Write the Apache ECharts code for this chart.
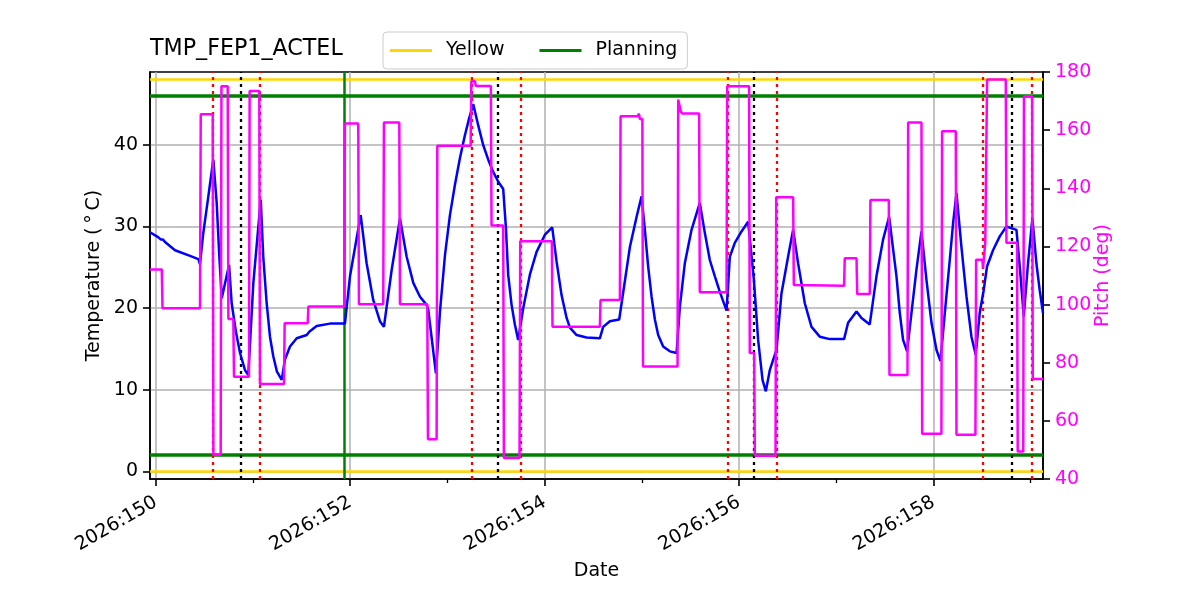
<!DOCTYPE html>
<html>
<head>
<meta charset="utf-8">
<script src="https://cdn.jsdelivr.net/npm/echarts@6/dist/echarts.min.js"></script>
<style>html,body{margin:0;padding:0;background:#fff}#c{width:1200px;height:600px}</style>
</head>
<body>
<div id="c"></div>
<script>
const xMajorTicks = [150, 152, 154, 156, 158];
const xMinorTicks = [151, 153, 155, 157, 159];
const xTickLabels = ['2026:150', '2026:152', '2026:154', '2026:156', '2026:158'];
const tempTicks = [0, 10, 20, 30, 40];

const tempTime = [149.941,150.024,150.054,150.075,150.096,150.198,150.353,150.438,150.455,150.489,
150.541,150.592,150.627,150.654,150.679,150.754,150.781,150.826,150.867,150.918,
150.952,151.004,151.080,151.106,151.141,151.175,151.209,151.247,151.296,151.329,
151.381,151.450,151.553,151.579,151.655,151.792,151.946,151.998,152.108,152.169,
152.237,152.306,152.347,152.427,152.512,152.581,152.649,152.718,152.786,152.803,
152.882,152.923,152.975,153.026,153.077,153.129,153.180,153.224,153.266,153.317,
153.368,153.420,153.471,153.523,153.574,153.602,153.625,153.660,153.694,153.728,
153.780,153.848,153.917,154.003,154.078,154.123,154.174,154.226,154.260,154.329,
154.431,154.568,154.602,154.671,154.767,154.877,154.946,154.997,155.031,155.065,
155.100,155.134,155.168,155.219,155.288,155.357,155.391,155.442,155.511,155.596,
155.648,155.699,155.751,155.802,155.871,155.905,155.956,156.025,156.093,156.110,
156.152,156.196,156.241,156.275,156.316,156.385,156.436,156.504,156.556,156.607,
156.676,156.745,156.830,156.933,157.080,157.121,157.208,157.259,157.344,157.413,
157.481,157.543,157.619,157.653,157.687,157.728,157.773,157.824,157.876,157.927,
157.979,158.030,158.071,158.116,158.167,158.201,158.236,158.287,158.339,158.390,
158.434,158.475,158.516,158.550,158.612,158.681,158.750,158.853,158.887,158.928,
158.972,159.017,159.058,159.092,159.126];
const tempValue = [29.3,28.7,28.4,28.4,28.1,27.1,26.4,26.0,25.4,29.2,
33.7,38.2,32.9,26.3,21.2,25.3,20.6,17.0,14.5,12.4,
11.8,23.1,33.3,26.3,20.6,16.5,14.1,12.2,11.2,13.7,
15.3,16.3,16.7,17.1,17.8,18.1,18.1,23.9,31.4,25.5,
21.0,18.4,17.7,24.7,31.0,26.3,23.1,21.4,20.4,19.8,
12.0,19.5,26.5,31.4,35.1,38.4,41.2,43.3,45.0,42.4,
40.0,38.2,36.7,35.5,34.6,29.8,24.1,20.4,18.0,16.1,
20.0,24.1,26.9,29.0,29.9,25.7,21.6,18.8,17.6,16.7,
16.4,16.3,17.7,18.4,18.6,27.5,31.2,33.7,29.6,25.1,
21.4,18.6,16.7,15.3,14.7,14.5,20.2,25.5,29.6,32.9,
29.2,25.9,23.9,22.0,19.7,26.3,28.0,29.4,30.6,30.8,
23.5,16.1,11.2,9.8,12.4,14.9,21.8,26.3,29.6,25.5,
20.6,17.7,16.5,16.2,16.2,18.2,19.6,18.8,18.0,23.9,
28.4,31.2,23.9,19.4,16.1,14.7,19.4,24.7,29.4,23.5,
18.2,14.9,13.5,19.4,25.9,30.4,34.1,27.5,21.4,16.5,
14.3,19.4,22.2,25.1,27.1,28.8,30.0,29.6,25.1,19.0,
25.5,31.0,25.5,22.2,19.4];

const pitchTime = [149.941,150.062,150.070,150.455,150.463,150.586,150.593,150.668,150.676,150.740,
150.747,150.798,150.805,150.959,150.966,151.065,151.072,151.319,151.326,151.563,
151.570,151.939,151.946,152.083,152.090,152.340,152.347,152.505,152.512,152.793,
152.800,152.889,152.896,153.239,153.246,153.283,153.293,153.447,153.454,153.574,
153.581,153.742,153.749,154.074,154.081,154.568,154.575,154.774,154.781,154.959,
154.969,154.980,155.005,155.012,155.367,155.374,155.400,155.415,155.589,155.596,
155.871,155.878,156.103,156.110,156.155,156.162,156.375,156.382,156.556,156.563,
157.080,157.087,157.208,157.215,157.344,157.351,157.540,157.547,157.732,157.739,
157.876,157.883,158.081,158.088,158.229,158.236,158.431,158.438,158.502,158.509,
158.525,158.532,158.544,158.551,158.743,158.750,158.859,158.866,158.923,158.930,
159.014,159.021,159.126];
const pitchValue = [112.1,112.1,98.7,98.7,165.5,165.5,48.3,48.3,175.1,175.1,
95.0,95.0,75.2,75.2,173.5,173.5,72.7,72.7,93.6,93.6,
99.3,99.3,162.3,162.3,100.1,100.1,162.6,162.6,100.1,100.1,
53.7,53.7,154.6,154.6,176.8,176.8,175.2,175.2,127.2,127.2,
47.2,47.2,121.8,121.8,92.4,92.4,101.6,101.6,164.8,164.8,
165.7,163.8,163.8,78.7,78.7,170.5,166.5,165.7,165.7,104.2,
104.2,175.1,175.1,83.3,83.3,48.0,48.0,136.9,136.9,106.7,
106.5,115.9,115.9,103.6,103.6,136.0,136.0,75.8,75.8,162.6,
162.6,55.6,55.6,159.6,159.6,55.2,55.2,115.4,115.4,112.5,
112.5,121.1,121.1,177.4,177.4,121.3,121.3,49.5,49.5,171.7,
171.7,74.4,74.4];

const yellowLimits = [0, 48];
const planningLimits = [2, 46];
const redTimes = [150.592, 151.075, 153.245, 153.749, 155.877, 156.391, 158.509, 159.013];
const blackTimes = [150.870, 153.516, 156.154, 158.801];
const planningTimes = [151.939];

const FONT = 'DejaVu Sans';
const FS = 19;
const X_MIN = 149.941, X_MAX = 159.126;

const tempData = tempTime.map((t, i) => [t, tempValue[i]]);
const pitchData = pitchTime.map((t, i) => [t, pitchValue[i]]);

const vLines = []
  .concat(redTimes.map(t => ({ xAxis: t, lineStyle: { color: '#ff0000', width: 2.3, type: [3, 4] } })))
  .concat(blackTimes.map(t => ({ xAxis: t, lineStyle: { color: '#000000', width: 2.3, type: [3, 4] } })))
  .concat(planningTimes.map(t => ({ xAxis: t, lineStyle: { color: '#008000', width: 2.5, type: 'solid' } })));

const chart = echarts.init(document.getElementById('c'), null, { renderer: 'canvas' });
chart.setOption({
  animation: false,
  backgroundColor: '#ffffff',
  textStyle: { fontFamily: FONT },
  title: {
    text: 'TMP_FEP1_ACTEL', left: 150, top: 38, padding: 0,
    textStyle: { fontFamily: FONT, fontSize: 22.2, fontWeight: 'normal', color: '#000' }
  },
  legend: {
    data: [
      { name: 'Yellow', icon: 'rect', itemStyle: { color: '#FFD700' } },
      { name: 'Planning', icon: 'rect', itemStyle: { color: '#008000' } }
    ],
    left: 383, top: 32, orient: 'horizontal',
    itemWidth: 42, itemHeight: 3, itemGap: 35,
    padding: [9, 10, 9, 7],
    borderColor: '#cccccc', borderWidth: 1, borderRadius: 4,
    backgroundColor: 'rgba(255,255,255,0.8)',
    selectedMode: false,
    textStyle: { fontFamily: FONT, fontSize: FS, color: '#000', padding: [0, 0, 0, 9] }
  },
  grid: {
    left: 150, top: 72, width: 893, height: 407,
    show: true, borderColor: '#000', borderWidth: 1.6, backgroundColor: 'transparent',
    containLabel: false, outerBoundsMode: 'none'
  },
  xAxis: [
    {
      type: 'value', min: X_MIN, max: X_MAX, position: 'bottom',
      name: 'Date', nameLocation: 'middle', nameGap: 83, nameMoveOverlap: false,
      nameTextStyle: { fontFamily: FONT, fontSize: FS, color: '#000' },
      axisLine: { show: true, onZero: false, lineStyle: { color: '#000', width: 1.6 } },
      axisTick: { show: true, inside: false, length: 7, customValues: xMajorTicks, lineStyle: { color: '#000', width: 1.6 } },
      axisLabel: {
        show: true, customValues: xMajorTicks, rotate: 30, margin: 22,
        fontFamily: FONT, fontSize: FS, color: '#000',
        formatter: v => xTickLabels[xMajorTicks.indexOf(Math.round(v))] || ''
      },
      splitLine: { show: true, lineStyle: { color: '#b0b0b0', width: 1.5 } }
    },
    {
      type: 'value', min: X_MIN, max: X_MAX, position: 'bottom', gridIndex: 0,
      axisLine: { show: false, onZero: false },
      axisTick: { show: true, inside: false, length: 4, customValues: xMinorTicks, lineStyle: { color: '#000', width: 1.3 } },
      axisLabel: { show: false },
      splitLine: { show: false }
    }
  ],
  yAxis: [
    {
      type: 'value', min: -0.95, max: 48.95, position: 'left',
      name: 'Temperature (\u2009°\u2009C)', nameLocation: 'middle', nameGap: 46, nameMoveOverlap: false,
      nameTextStyle: { fontFamily: FONT, fontSize: FS, color: '#000' },
      axisLine: { show: true, onZero: false, lineStyle: { color: '#000', width: 1.6 } },
      axisTick: { show: true, inside: false, length: 7, customValues: tempTicks, lineStyle: { color: '#000', width: 1.6 } },
      axisLabel: { show: true, customValues: tempTicks, margin: 12, fontFamily: FONT, fontSize: FS, color: '#000' },
      splitLine: { show: true, lineStyle: { color: '#b0b0b0', width: 1.5 } }
    },
    {
      type: 'value', min: 40, max: 180, interval: 20, position: 'right',
      name: 'Pitch (deg)', nameLocation: 'middle', nameGap: 51, nameMoveOverlap: false,
      nameTextStyle: { fontFamily: FONT, fontSize: FS, color: '#ff00ff' },
      axisLine: { show: true, onZero: false, lineStyle: { color: '#000', width: 1.6 } },
      axisTick: { show: true, inside: false, length: 7, lineStyle: { color: '#000', width: 1.6 } },
      axisLabel: { show: true, margin: 12, fontFamily: FONT, fontSize: FS, color: '#ff00ff' },
      splitLine: { show: false }
    }
  ],
  series: [
    {
      name: 'Yellow', type: 'line', xAxisIndex: 0, yAxisIndex: 0, data: [], z: 3,
      color: '#FFD700', silent: true,
      markLine: {
        silent: true, symbol: 'none', label: { show: false }, animation: false,
        lineStyle: { color: '#FFD700', width: 2.5, type: 'solid' },
        data: yellowLimits.map(v => ({ yAxis: v }))
      }
    },
    {
      name: 'Planning', type: 'line', xAxisIndex: 0, yAxisIndex: 0, data: [], z: 3,
      color: '#008000', silent: true,
      markLine: {
        silent: true, symbol: 'none', label: { show: false }, animation: false,
        lineStyle: { color: '#008000', width: 3.5, type: 'solid' },
        data: planningLimits.map(v => ({ yAxis: v }))
      }
    },
    {
      name: 'events', type: 'line', xAxisIndex: 0, yAxisIndex: 0, data: [], z: 4, silent: true,
      markLine: {
        silent: true, symbol: 'none', label: { show: false }, animation: false,
        data: vLines
      }
    },
    {
      name: 'Temperature', type: 'line', xAxisIndex: 0, yAxisIndex: 0, data: tempData, z: 5,
      showSymbol: false, symbol: 'none', silent: true,
      lineStyle: { color: '#0000ff', width: 2.5 }, itemStyle: { color: '#0000ff' }
    },
    {
      name: 'Pitch', type: 'line', xAxisIndex: 0, yAxisIndex: 1, data: pitchData, z: 6,
      showSymbol: false, symbol: 'none', silent: true,
      lineStyle: { color: '#ff00ff', width: 2.5 }, itemStyle: { color: '#ff00ff' }
    }
  ]
});
</script>
</body>
</html>
